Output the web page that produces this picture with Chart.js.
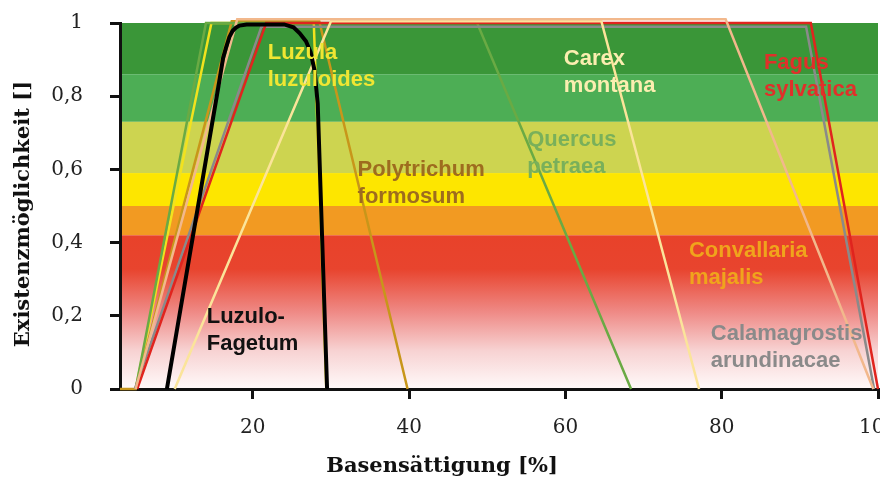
<!DOCTYPE html>
<html><head><meta charset="utf-8">
<script src="https://cdn.jsdelivr.net/npm/chart.js@4.4.0/dist/chart.umd.min.js"></script>
<style>html,body{margin:0;padding:0;background:#fff;}</style>
</head><body>
<canvas id="c" width="880" height="483"></canvas>
<script>
// ---- data ----
const xTicks = [20, 40, 60, 80, 100];
const yTicks = [0, 0.2, 0.4, 0.6, 0.8, 1];
const yTickLabels = ['0', '0,2', '0,4', '0,6', '0,8', '1'];
const xTitle = 'Basensättigung [%]';
const yTitle = 'Existenzmöglichkeit []';

const luzuloFagetumX = [9, 15.7, 16.2, 16.6, 17.0, 17.4, 17.8, 18.3, 19.2, 24, 25.2, 26, 26.8, 27.4, 27.9, 28.3, 29.5];
const luzuloFagetumY = [0, 0.84, 0.905, 0.935, 0.962, 0.978, 0.987, 0.993, 0.996, 0.996, 0.988, 0.972, 0.95, 0.92, 0.87, 0.78, 0];
const polytrichumX = [3, 5, 17.3, 28.5, 39.8];
const polytrichumY = [0, 0, 1.005, 1.005, 0];
const luzulaX = [5, 14.7, 27.8, 29.4];
const luzulaY = [0, 1, 1, 0];
const fagusX = [5.2, 21.7, 91.4, 100];
const fagusY = [0, 1, 1, 0];
const calamagrostisX = [4.9, 21.1, 90.8, 99.5];
const calamagrostisY = [0, 0.99, 0.99, 0];
const quercusX = [5, 14, 48.7, 68.4];
const quercusY = [0, 1, 1, 0];
const carexX = [10, 30, 64.6, 77.1];
const carexY = [0, 1.005, 1.005, 0];
const convallariaX = [5, 18, 80.5, 99.4];
const convallariaY = [0, 1.01, 1.01, 0];

const bandEdges = [1, 0.86, 0.73, 0.59, 0.5, 0.42];
const bandColors = ['#3a9638', '#4dae55', '#cdd450', '#fde600', '#f29a22'];

const speciesLabels = [
  {lines: ['Luzula', 'luzuloides'], x: 21.9, y: 0.901, color: '#f0e632'},
  {lines: ['Carex', 'montana'], x: 59.8, y: 0.885, color: '#fbeeb0'},
  {lines: ['Fagus', 'sylvatica'], x: 85.4, y: 0.874, color: '#e0302a'},
  {lines: ['Quercus', 'petraea'], x: 55.1, y: 0.663, color: '#79b05a'},
  {lines: ['Polytrichum', 'formosum'], x: 33.4, y: 0.581, color: '#9e6c1e'},
  {lines: ['Convallaria', 'majalis'], x: 75.8, y: 0.362, color: '#f0a41c'},
  {lines: ['Calamagrostis', 'arundinacae'], x: 78.6, y: 0.134, color: '#8a8a8a'},
  {lines: ['Luzulo-', 'Fagetum'], x: 14.1, y: 0.181, color: '#111111'}
];

function pts(xs, ys) { return xs.map((x, i) => ({x: x, y: ys[i]})); }

// first dataset is drawn on top
const series = [
  {label: 'Luzulo-Fagetum', data: pts(luzuloFagetumX, luzuloFagetumY), borderColor: '#000000', borderWidth: 4},
  {label: 'Convallaria majalis', data: pts(convallariaX, convallariaY), borderColor: '#f2b88c', borderWidth: 2.5},
  {label: 'Carex montana', data: pts(carexX, carexY), borderColor: '#fbe49a', borderWidth: 2.5},
  {label: 'Fagus sylvatica', data: pts(fagusX, fagusY), borderColor: '#e0241e', borderWidth: 2.5},
  {label: 'Calamagrostis arundinacae', data: pts(calamagrostisX, calamagrostisY), borderColor: '#8a8a8a', borderWidth: 2.5},
  {label: 'Quercus petraea', data: pts(quercusX, quercusY), borderColor: '#6aaa44', borderWidth: 2.5},
  {label: 'Polytrichum formosum', data: pts(polytrichumX, polytrichumY), borderColor: '#c8961a', borderWidth: 2.5},
  {label: 'Luzula luzuloides', data: pts(luzulaX, luzulaY), borderColor: '#f2e21e', borderWidth: 2.5}
];

const bgPlugin = {
  id: 'bands',
  beforeDraw(chart) {
    const {ctx, chartArea: a, scales: {y}} = chart;
    ctx.save();
    for (let i = 0; i < bandColors.length; i++) {
      const t = y.getPixelForValue(bandEdges[i]);
      const b = y.getPixelForValue(bandEdges[i + 1]);
      ctx.fillStyle = bandColors[i];
      ctx.fillRect(a.left, t, a.right - a.left, b - t);
    }
    const t = y.getPixelForValue(bandEdges[bandEdges.length - 1]);
    const b = y.getPixelForValue(0);
    const g = ctx.createLinearGradient(0, t, 0, b);
    g.addColorStop(0, '#e8422a');
    g.addColorStop(0.22, '#e8442e');
    g.addColorStop(0.5, '#ef8a86');
    g.addColorStop(0.75, '#f7d2d2');
    g.addColorStop(1, '#fffafa');
    ctx.fillStyle = g;
    ctx.fillRect(a.left, t, a.right - a.left, b - t);
    ctx.restore();
  }
};

const labelPlugin = {
  id: 'speciesLabels',
  afterDatasetsDraw(chart) {
    const {ctx, scales: {x, y}} = chart;
    ctx.save();
    ctx.font = 'bold 22px "Liberation Sans", Arial, sans-serif';
    ctx.textBaseline = 'alphabetic';
    ctx.textAlign = 'left';
    speciesLabels.forEach(l => {
      ctx.fillStyle = l.color;
      const px = x.getPixelForValue(l.x);
      const py = y.getPixelForValue(l.y);
      l.lines.forEach((s, i) => ctx.fillText(s, px, py + i * 27));
    });
    // axis titles
    ctx.fillStyle = '#111';
    ctx.font = 'bold 21px "DejaVu Serif", serif';
    ctx.textAlign = 'center';
    ctx.textBaseline = 'middle';
    ctx.fillText(xTitle, 442, 467);
    ctx.translate(24, 214);
    ctx.rotate(-Math.PI / 2);
    ctx.fillText(yTitle, 0, 0);
    ctx.restore();
  }
};

new Chart(document.getElementById('c'), {
  type: 'line',
  data: {datasets: series.map(s => Object.assign({pointRadius: 0, fill: false, clip: 8, tension: 0}, s))},
  options: {
    responsive: false,
    animation: false,
    layout: {padding: {top: 23, right: 2, left: 0, bottom: 0}},
    plugins: {legend: {display: false}, tooltip: {enabled: false}},
    scales: {
      x: {
        type: 'linear', min: 3, max: 100,
        afterBuildTicks: s => { s.ticks = xTicks.map(v => ({value: v})); },
        afterFit: s => { s.height = 94; s.paddingLeft = 0; s.paddingRight = 0; },
        ticks: {font: {family: 'DejaVu Serif', size: 20}, color: '#222', padding: 17, maxRotation: 0},
        grid: {drawOnChartArea: false, drawTicks: true, tickLength: 10, lineWidth: 3, color: '#111'},
        border: {display: true, width: 3, color: '#111'}
      },
      y: {
        type: 'linear', min: 0, max: 1,
        afterBuildTicks: s => { s.ticks = yTicks.map(v => ({value: v})); },
        afterFit: s => { s.width = 120; s.paddingTop = 0; s.paddingBottom = 0; },
        ticks: {font: {family: 'DejaVu Serif', size: 20}, color: '#222', padding: 27, callback: (v, i) => yTickLabels[i]},
        grid: {drawOnChartArea: false, drawTicks: true, tickLength: 10, lineWidth: 3, color: '#111'},
        border: {display: true, width: 3, color: '#111'}
      }
    }
  },
  plugins: [bgPlugin, labelPlugin]
});
</script>
</body></html>
